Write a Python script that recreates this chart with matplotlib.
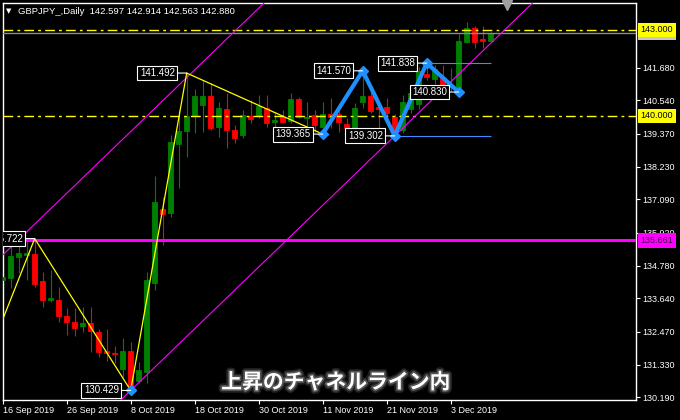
import numpy as np
import pandas as pd
import matplotlib
matplotlib.use('Agg')
import matplotlib.pyplot as plt
import matplotlib.patheffects as pe

plt.rcParams['font.family'] = ['Liberation Sans', 'DejaVu Sans']

# ---------------- data ----------------
symbol = 'GBPJPY_,Daily'
start_date = '2019-09-16'

open_ = [134.28, 134.34, 135.09, 135.15, 135.19, 134.24, 133.57, 133.58, 133.02, 132.80,
         132.69, 132.77, 132.48, 131.81, 131.74, 131.18, 131.80, 130.77, 131.08, 134.16,
         136.75, 136.63, 139.01, 139.48, 139.99, 140.37, 140.69, 139.62, 140.23, 139.51,
         139.33, 139.99, 139.99, 140.26, 139.78, 139.95, 139.83, 140.58, 139.92, 140.03,
         139.60, 140.05, 140.05, 139.72, 139.45, 140.49, 140.70, 140.32, 140.30, 139.95,
         139.50, 140.25, 140.40, 141.45, 141.30, 141.36, 141.00, 141.02, 142.58, 143.05,
         142.67, 142.597]
high = [134.87, 135.49, 135.58, 135.67, 135.722, 134.57, 134.63, 134.05, 133.29, 133.29,
        133.35, 133.35, 132.57, 132.57, 131.99, 132.25, 132.13, 131.43, 134.57, 137.90,
        137.18, 139.33, 140.21, 141.492, 140.93, 141.25, 141.14, 140.49, 140.79, 139.68,
        140.21, 140.56, 140.72, 140.72, 140.15, 140.21, 140.79, 140.67, 140.49, 140.21,
        140.49, 140.61, 140.21, 139.92, 140.44, 141.570, 140.96, 140.44, 140.61, 140.05,
        140.72, 141.00, 141.72, 141.838, 141.78, 141.77, 141.66, 142.84, 143.28, 143.13,
        143.14, 142.914]
low = [133.86, 133.99, 134.52, 134.28, 134.02, 133.35, 133.52, 132.83, 132.36, 132.34,
       132.48, 131.78, 131.61, 131.46, 131.37, 130.91, 130.429, 130.68, 130.70, 133.93,
       135.50, 136.46, 137.50, 138.58, 139.40, 139.45, 139.50, 139.27, 138.87, 139.05,
       139.22, 139.74, 139.92, 139.62, 139.45, 139.74, 139.74, 139.92, 139.45, 139.42,
       139.365, 139.56, 139.45, 139.45, 139.40, 140.26, 140.09, 139.51, 139.74, 139.302,
       139.40, 140.10, 140.25, 141.25, 141.10, 140.73, 140.85, 140.83, 142.54, 142.35,
       142.38, 142.563]
close = [134.38, 135.11, 135.21, 135.21, 134.14, 133.58, 133.66, 133.03, 132.83, 132.60,
         132.78, 132.50, 131.78, 131.74, 131.71, 131.80, 130.52, 131.14, 134.28, 137.01,
         136.58, 139.10, 139.47, 139.99, 140.70, 140.69, 139.56, 140.26, 139.51, 139.22,
         140.03, 139.90, 140.34, 139.74, 139.86, 139.78, 140.58, 139.95, 139.97, 139.68,
         140.07, 139.96, 139.78, 139.57, 140.28, 140.70, 140.18, 140.24, 140.09, 139.45,
         140.50, 140.78, 141.56, 141.36, 141.62, 141.02, 141.08, 142.62, 143.05, 142.56,
         142.61, 142.880]

date_labels = ['16 Sep 2019', '26 Sep 2019', '8 Oct 2019', '18 Oct 2019',
               '30 Oct 2019', '11 Nov 2019', '21 Nov 2019', '3 Dec 2019']
price_ticks = [130.190, 131.330, 132.470, 133.640, 134.780, 135.920,
               137.090, 138.230, 139.370, 140.540, 141.680]

# yellow zigzag (date, price)
yellow_dates = ['2019-09-03', '2019-09-20', '2019-10-08', '2019-10-17', '2019-11-11']
yellow_prices = [126.55, 135.722, 130.429, 141.492, 139.365]
# blue zigzag
blue_dates = ['2019-11-11', '2019-11-18', '2019-11-22', '2019-11-28', '2019-12-04']
blue_prices = [139.365, 141.570, 139.302, 141.838, 140.830]
# labelled swing points
label_dates = ['2019-09-20', '2019-10-08', '2019-10-17', '2019-11-11',
               '2019-11-18', '2019-11-22', '2019-11-28', '2019-12-04']
label_prices = [135.722, 130.429, 141.492, 139.365, 141.570, 139.302, 141.838, 140.830]

# channel: lower line through two lows, upper parallel line
channel_low_dates = ['2019-10-08', '2019-11-22']
channel_low_prices = [130.429, 139.302]
channel_up_date = '2019-09-16'
channel_up_price = 135.15

# horizontal levels
yellow_levels = [143.000, 140.000]
magenta_level = 135.661
bid_level = 142.880
blue_level_dates = ['2019-11-28', '2019-11-22']
blue_level_prices = [141.838, 139.302]

caption = '上昇のチャネルライン内'

# ---------------- helpers ----------------
n = len(open_)
x = np.arange(n)
o = np.array(open_); h = np.array(high); l = np.array(low); c = np.array(close)
last_date = pd.bdate_range(start_date, periods=n)[-1]


def xi(d):
    return int(np.busday_count(pd.Timestamp(start_date).date(), pd.Timestamp(d).date()))


fig = plt.figure(figsize=(6.8, 4.2), dpi=100, facecolor='black')
ax = fig.add_axes([2.5 / 680, 20 / 420, 633 / 680, 397.5 / 420])
ax.set_facecolor('black')
for s in ax.spines.values():
    s.set_color('white')
    s.set_linewidth(1)
ax.set_xlim(-0.025, 79.1)
ax.set_ylim(130.096, 143.951)

# candles
up = c >= o
cols = np.where(up, '#008000', '#ff0000')
ax.vlines(x, l, h, colors=cols, lw=0.8, zorder=2)
ax.bar(x, np.abs(c - o), bottom=np.minimum(o, c), width=0.62, color=cols,
       edgecolor=cols, linewidth=0.6, zorder=3)

# horizontal lines
ax.axhline(bid_level, color='#8a8a96', lw=1, zorder=4)
for lv in yellow_levels:
    ax.axhline(lv, color='#ffff00', lw=1, ls=(0, (7, 3, 2, 3)), zorder=4)
ax.axhline(magenta_level, color='#ff00ff', lw=2.2, zorder=4)

# channel
xl = [xi(d) for d in channel_low_dates]
slope = (channel_low_prices[1] - channel_low_prices[0]) / (xl[1] - xl[0])
ax.axline((xl[0], channel_low_prices[0]), slope=slope, color='#ff00ff', lw=0.8, zorder=4)
ax.axline((xi(channel_up_date), channel_up_price), slope=slope, color='#ff00ff', lw=0.8, zorder=4)

# zigzags
ax.plot([xi(d) for d in yellow_dates], yellow_prices, color='#ffff00', lw=0.9, zorder=5)
for d, p in zip(blue_level_dates, blue_level_prices):
    ax.hlines(p, xi(d), xi(last_date), color='#3c8cff', lw=0.8, zorder=5)
ax.plot([xi(d) for d in blue_dates], blue_prices, color='#1e90ff', lw=3,
        marker='D', ms=5, zorder=6, solid_joinstyle='miter')
ax.plot([xi('2019-10-08')], [130.429], marker='D', color='#1e90ff', ms=5, zorder=6)

# point labels
for d, p in zip(label_dates, label_prices):
    ax.annotate(f'{p:.3f}', xy=(xi(d), p), xytext=(-8.5, 0), textcoords='offset points',
                ha='right', va='center', fontsize=7, color='white', zorder=7,
                bbox=dict(boxstyle='square,pad=0.25', fc='black', ec='white', lw=0.8),
                arrowprops=dict(arrowstyle='-', color='white', lw=0.8, shrinkA=0, shrinkB=0),
                clip_on=True)

# axes ticks
ax.yaxis.tick_right()
ax.set_yticks(price_ticks)
ax.set_yticklabels([f'{v:.3f}' for v in price_ticks])
ax.tick_params(axis='y', colors='white', labelsize=6.5, length=3, width=0.8, pad=2)
tick_pos = [xi(pd.to_datetime(s, format='%d %b %Y')) for s in date_labels]
ax.set_xticks(tick_pos)
ax.set_xticklabels(date_labels, ha='left')
ax.tick_params(axis='x', colors='white', labelsize=6.5, length=3, width=0.8, pad=1)

# right-side price tags
ytr = ax.get_yaxis_transform()
tag_x = 1 + 5 / 633
ax.text(tag_x, bid_level, f'{bid_level:.3f}', transform=ytr, fontsize=6.5, color='black',
        va='center', ha='left', clip_on=False, zorder=8,
        bbox=dict(boxstyle='square,pad=0.3', fc='#c8c8c8', ec='none'))
for lv in yellow_levels:
    ax.text(tag_x, lv, f'{lv:.3f}', transform=ytr, fontsize=6.5, color='black',
            va='center', ha='left', clip_on=False, zorder=9,
            bbox=dict(boxstyle='square,pad=0.3', fc='#ffff00', ec='none'))
ax.text(tag_x, magenta_level, f'{magenta_level:.3f}', transform=ytr, fontsize=6.5,
        color='#400040', va='center', ha='left', clip_on=False, zorder=9,
        bbox=dict(boxstyle='square,pad=0.3', fc='#ff00ff', ec='none'))

# title
fig.text(6 / 680, 1 - 11 / 420, '▼', fontsize=5, color='white', va='center',
         family=['DejaVu Sans'])
fig.text(18 / 680, 1 - 11 / 420,
         f'{symbol}  {open_[-1]:.3f} {high[-1]:.3f} {low[-1]:.3f} {close[-1]:.3f}',
         fontsize=6.8, color='white', va='center')
ax.plot([0.7975], [0.993], marker='v', color='#a0a0a0', ms=6.5,
        transform=ax.transAxes, clip_on=False, zorder=9)

# caption
fig.text(336 / 680, 1 - 382 / 420, caption, fontsize=15, color='white', weight='bold',
         ha='center', va='center', family=['Noto Sans CJK JP', 'DejaVu Sans'],
         path_effects=[pe.Stroke(linewidth=5, foreground='#202020'),
                       pe.Stroke(linewidth=2.5, foreground='#555555'),
                       pe.Normal()])

fig.savefig('out.png', dpi=100, facecolor='black')
